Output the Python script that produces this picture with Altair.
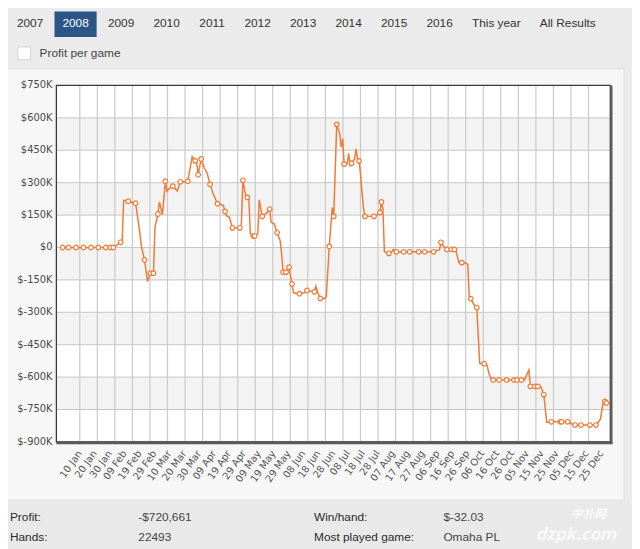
import altair as alt
import pandas as pd

# ---------------- data ----------------
dates = [
    "2008-01-01", "2008-01-05", "2008-01-10", "2008-01-15", "2008-01-20", "2008-01-25", "2008-01-30",
    "2008-02-02", "2008-02-04", "2008-02-06", "2008-02-09", "2008-02-10", "2008-02-11", "2008-02-14",
    "2008-02-19", "2008-02-21", "2008-02-23", "2008-02-25", "2008-02-27", "2008-02-29", "2008-03-02",
    "2008-03-03", "2008-03-05", "2008-03-06", "2008-03-08", "2008-03-10", "2008-03-11", "2008-03-13",
    "2008-03-15", "2008-03-18", "2008-03-20", "2008-03-23", "2008-03-25", "2008-03-28", "2008-03-30",
    "2008-03-31", "2008-04-01", "2008-04-03", "2008-04-05", "2008-04-07", "2008-04-09", "2008-04-11",
    "2008-04-14", "2008-04-16", "2008-04-18", "2008-04-19", "2008-04-20", "2008-04-22", "2008-04-24",
    "2008-04-29", "2008-04-30", "2008-05-01", "2008-05-03", "2008-05-04", "2008-05-05", "2008-05-06",
    "2008-05-08", "2008-05-09", "2008-05-11", "2008-05-12", "2008-05-14", "2008-05-17", "2008-05-19",
    "2008-05-20", "2008-05-22", "2008-05-24", "2008-05-26", "2008-05-27", "2008-05-28", "2008-05-30",
    "2008-06-01", "2008-06-03", "2008-06-04", "2008-06-08", "2008-06-11", "2008-06-13", "2008-06-18",
    "2008-06-19", "2008-06-20", "2008-06-22", "2008-06-25", "2008-06-26", "2008-06-28", "2008-06-30",
    "2008-07-01", "2008-07-03", "2008-07-05", "2008-07-06", "2008-07-07", "2008-07-08", "2008-07-10",
    "2008-07-11", "2008-07-12", "2008-07-13", "2008-07-15", "2008-07-16", "2008-07-17", "2008-07-18",
    "2008-07-19", "2008-07-20", "2008-07-21", "2008-07-22", "2008-07-28", "2008-07-30", "2008-08-01",
    "2008-08-02", "2008-08-03", "2008-08-04", "2008-08-07", "2008-08-09", "2008-08-10", "2008-08-12",
    "2008-08-17", "2008-08-21", "2008-08-27", "2008-08-31", "2008-09-06", "2008-09-10", "2008-09-11",
    "2008-09-13", "2008-09-15", "2008-09-18", "2008-09-20", "2008-09-21", "2008-09-23", "2008-09-25",
    "2008-09-28", "2008-09-29", "2008-09-30", "2008-10-01", "2008-10-03", "2008-10-05", "2008-10-07",
    "2008-10-10", "2008-10-12", "2008-10-13", "2008-10-15", "2008-10-16", "2008-10-20", "2008-10-25",
    "2008-10-30", "2008-11-01", "2008-11-04", "2008-11-06", "2008-11-09", "2008-11-10", "2008-11-13",
    "2008-11-15", "2008-11-17", "2008-11-19", "2008-11-21", "2008-11-24", "2008-11-30", "2008-12-01",
    "2008-12-05", "2008-12-07", "2008-12-10", "2008-12-14", "2008-12-20", "2008-12-24", "2008-12-27",
    "2008-12-29", "2008-12-30", "2008-12-31",
]
profit = [
    0, 0, 0, 0, 0, 0, 0,
    0, 0, 10000, 24000, 30000, 218000, 214000,
    205000, 110000, 3000, -58000, -157000, -119000, -119000,
    93000, 155000, 211000, 152000, 307000, 261000, 275000,
    284000, 261000, 304000, 304000, 307000, 421000, 401000,
    395000, 337000, 410000, 370000, 345000, 292000, 250000,
    203000, 200000, 193000, 167000, 147000, 140000, 91000,
    91000, 108000, 311000, 238000, 232000, 230000, 64000,
    53000, 53000, 64000, 220000, 144000, 160000, 178000,
    117000, 110000, 68000, 33000, -27000, -114000, -114000,
    -91000, -169000, -210000, -214000, -210000, -199000, -205000,
    -180000, -205000, -236000, -236000, -228000, 5000, 185000,
    144000, 570000, 527000, 466000, 503000, 386000, 386000,
    436000, 380000, 390000, 410000, 456000, 410000, 401000,
    340000, 253000, 180000, 144000, 144000, 150000, 162000,
    211000, 180000, -20000, -27000, -20000, -9000, -20000,
    -20000, -20000, -20000, -20000, -20000, -10000, 24000,
    3000, -9000, -9000, -9000, -15000, -70000, -70000,
    -73000, -80000, -237000, -237000, -263000, -278000, -537000,
    -538000, -545000, -580000, -613000, -613000, -613000, -613000,
    -613000, -613000, -613000, -613000, -567000, -643000, -643000,
    -643000, -643000, -681000, -810000, -807000, -807000, -807000,
    -807000, -815000, -822000, -822000, -822000, -822000, -795000,
    -711000, -713000, -720000,
]
session_marker = [
    True, True, True, True, True, True, True,
    True, True, False, True, False, False, True,
    True, False, False, True, False, True, True,
    False, True, False, False, True, False, False,
    True, False, True, False, True, False, True,
    False, True, True, False, False, True, False,
    True, False, False, True, False, False, True,
    True, False, True, False, True, False, False,
    True, True, False, False, True, False, True,
    False, False, True, False, False, True, True,
    True, True, False, True, False, True, True,
    False, False, True, False, False, True, False,
    True, True, False, False, False, True, False,
    False, False, True, False, False, False, True,
    False, False, False, True, True, False, True,
    True, False, False, True, False, False, True,
    True, True, True, True, True, False, True,
    False, True, True, True, False, False, True,
    False, False, False, True, False, True, False,
    True, False, False, False, True, True, True,
    True, True, True, False, False, True, True,
    True, False, True, False, True, True, True,
    True, False, True, True, True, True, False,
    False, True, True,
]

y_ticks = [-900000, -750000, -600000, -450000, -300000, -150000, 0,
           150000, 300000, 450000, 600000, 750000]
y_tick_labels = ["$-900K", "$-750K", "$-600K", "$-450K", "$-300K", "$-150K", "$0",
                 "$150K", "$300K", "$450K", "$600K", "$750K"]
gray_band_starts = [450000, 150000, -150000, -450000, -750000]
x_label_dates = [
    "2008-01-10", "2008-01-20", "2008-01-30", "2008-02-09", "2008-02-19", "2008-02-29",
    "2008-03-10", "2008-03-20", "2008-03-30", "2008-04-09", "2008-04-19", "2008-04-29",
    "2008-05-09", "2008-05-19", "2008-05-29", "2008-06-08", "2008-06-18", "2008-06-28",
    "2008-07-08", "2008-07-18", "2008-07-28", "2008-08-07", "2008-08-17", "2008-08-27",
    "2008-09-06", "2008-09-16", "2008-09-26", "2008-10-06", "2008-10-16", "2008-10-26",
    "2008-11-05", "2008-11-15", "2008-11-25", "2008-12-05", "2008-12-15", "2008-12-25",
]
x_tick_labels = [
    "10 Jan", "20 Jan", "30 Jan", "09 Feb", "19 Feb", "29 Feb",
    "10 Mar", "20 Mar", "30 Mar", "09 Apr", "19 Apr", "29 Apr",
    "09 May", "19 May", "29 May", "08 Jun", "18 Jun", "28 Jun",
    "08 Jul", "18 Jul", "28 Jul", "07 Aug", "17 Aug", "27 Aug",
    "06 Sep", "16 Sep", "26 Sep", "06 Oct", "16 Oct", "26 Oct",
    "05 Nov", "15 Nov", "25 Nov", "05 Dec", "15 Dec", "25 Dec",
]
grid_slots = list(range(30))

tabs = ["2007", "2008", "2009", "2010", "2011", "2012", "2013", "2014", "2015", "2016",
        "This year", "All Results"]
selected_tab = "2008"
checkbox_label = "Profit per game"
stat_names = ["Profit:", "Win/hand:", "Hands:", "Most played game:"]
stat_values = ["-$720,661", "$-32.03", "22493", "Omaha PL"]

# ---------------- layout / style ----------------
W, H = 561, 361
OX, OY = 57, 83          # page position of the plot's top-left corner
ORANGE = "#f07a36"
AXFONT = "DejaVu Sans"
UIFONT = "Liberation Sans"


def dt(s, hours=0):
    y, m, d = (int(v) for v in s.split("-"))
    return alt.DateTime(year=y, month=m, date=d, hours=hours, utc=True)


x_scale = alt.Scale(type="utc", domain=[dt("2007-12-27", 20), dt("2009-01-02", 15)])
y_scale = alt.Scale(domain=[-900000, 750000], nice=False, zero=False)

df = pd.DataFrame({"date": dates, "profit": profit, "marked": session_marker})
one = pd.DataFrame({"k": [0]})


def box(x1, y1, x2, y2, **kw):
    """Decorative rectangle given in page pixels."""
    return alt.Chart(one).mark_rect(**kw).encode(
        x=alt.value(x1 - OX), x2=alt.value(x2 - OX),
        y=alt.value(y1 - OY), y2=alt.value(y2 - OY))


panel = box(-60, 66, 632, 503, color="#f7f7f7", stroke="#dcdcdc", strokeWidth=1)
stats_bg = box(-60, 503, 660, 560, color="#e9e9e9")
plot_bg = alt.Chart(one).mark_rect(color="white").encode(
    x=alt.value(0), x2=alt.value(W), y=alt.value(0), y2=alt.value(H))

bands = alt.Chart(pd.DataFrame({"lo": gray_band_starts,
                                "hi": [b + 150000 for b in gray_band_starts]})).mark_rect(
    color="#f3f3f3").encode(
    y=alt.Y("lo:Q", scale=y_scale, axis=None), y2="hi:Q",
    x=alt.value(0), x2=alt.value(W))

grid_x = alt.Chart(pd.DataFrame({"slot": grid_slots})).mark_rule(
    color="#cacaca", strokeWidth=1.2).encode(
    x=alt.X("slot:Q", scale=alt.Scale(domain=[-1.334, 30.24], nice=False, zero=False), axis=None))

ytick_df = pd.DataFrame({"v": y_ticks, "lab": y_tick_labels})
grid_y = alt.Chart(ytick_df).mark_rule(color="#c6c6c6", strokeWidth=1).encode(
    y=alt.Y("v:Q", scale=y_scale, axis=None))
y_labels = alt.Chart(ytick_df).mark_text(
    font=AXFONT, fontSize=10, color="#4a4a4a", align="right", baseline="middle").encode(
    y=alt.Y("v:Q", scale=y_scale, axis=None), x=alt.value(-4), text="lab:N")

line = alt.Chart(df).mark_line(color=ORANGE, strokeWidth=1.5).encode(
    x=alt.X("date:T", scale=x_scale, axis=None),
    y=alt.Y("profit:Q", scale=y_scale, axis=None))
points = alt.Chart(df).transform_filter("datum.marked").mark_point(
    shape="circle", filled=True, fill="white", stroke=ORANGE, strokeWidth=1.2,
    size=22, opacity=1).encode(
    x=alt.X("date:T", scale=x_scale, axis=None),
    y=alt.Y("profit:Q", scale=y_scale, axis=None))
x_labels = alt.Chart(pd.DataFrame({"d": x_label_dates, "lab": x_tick_labels})).mark_text(
    font=AXFONT, fontSize=10, color="#555555", angle=305, align="right",
    baseline="top").encode(
    x=alt.X("d:T", scale=x_scale, axis=None), y=alt.value(H + 7), text="lab:N")
series = alt.layer(line, points, x_labels)

frame = alt.Chart(one).mark_rect(fill="white", fillOpacity=0, stroke="#3a3a3a",
                                 strokeWidth=1.3).encode(
    x=alt.value(0), x2=alt.value(W), y=alt.value(0), y2=alt.value(H))
shadow_r = alt.Chart(one).mark_rule(color="#5a5a5a", strokeWidth=2.5).encode(
    x=alt.value(W + 1), y=alt.value(0), y2=alt.value(H + 2.2))
shadow_b = alt.Chart(one).mark_rule(color="#5a5a5a", strokeWidth=2.5).encode(
    x=alt.value(0), x2=alt.value(W + 2.2), y=alt.value(H + 1))

# ---- tabs laid out like inline text ----
ARIAL_W = {**{d: 0.556 for d in "0123456789"}, " ": 0.278, "T": 0.611, "h": 0.556,
           "i": 0.222, "s": 0.5, "y": 0.5, "e": 0.556, "a": 0.556, "r": 0.333,
           "A": 0.667, "l": 0.222, "R": 0.722, "u": 0.556, "t": 0.278}


def text_w(s, size=12):
    return sum(ARIAL_W.get(c, 0.55) for c in s) * size


rows, left = [], 17.0
for t in tabs:
    w = text_w(t)
    cx = left + w / 2 - OX
    rows.append({"label": t, "cx": cx, "x1": cx - w / 2 - 8, "x2": cx + w / 2 + 8,
                 "col": "white" if t == selected_tab else "#333333",
                 "sel": t == selected_tab})
    left += w + 19.4
tab_df = pd.DataFrame(rows)

tab_box = alt.Chart(tab_df).transform_filter("datum.sel").mark_rect(color="#2c5687").encode(
    x=alt.X("x1:Q", scale=None), x2="x2:Q", y=alt.value(8 - OY), y2=alt.value(34 - OY))
tab_text = alt.Chart(tab_df).mark_text(font=UIFONT, fontSize=12, baseline="middle",
                                       align="center").encode(
    x=alt.X("cx:Q", scale=None), y=alt.value(20 - OY), text="label:N",
    color=alt.Color("col:N", scale=None))

checkbox = box(18, 44, 31, 57, color="white", stroke="#d2d2d2", strokeWidth=1)
check_text = alt.Chart(pd.DataFrame({"t": [checkbox_label]})).mark_text(
    font=UIFONT, fontSize=12, color="#444444", align="left", baseline="middle").encode(
    x=alt.value(40 - OX), y=alt.value(50 - OY), text="t:N")

# ---- statistics block (2 x 2 grid of name / value pairs) ----
srows = []
for i, (n, v) in enumerate(zip(stat_names, stat_values)):
    col, row = i % 2, i // 2
    srows.append({"name": n, "val": v,
                  "nx": [10, 318][col] - OX, "vx": [140, 449][col] - OX,
                  "y": [520, 540][row] - OY})
stat_df = pd.DataFrame(srows)
stat_names_t = alt.Chart(stat_df).mark_text(font=UIFONT, fontSize=12, color="#2a2a2a",
                                            align="left", baseline="middle").encode(
    x=alt.X("nx:Q", scale=None), y=alt.Y("y:Q", scale=None), text="name:N")
stat_vals_t = alt.Chart(stat_df).mark_text(font=UIFONT, fontSize=12, color="#444444",
                                           align="left", baseline="middle").encode(
    x=alt.X("vx:Q", scale=None), y=alt.Y("y:Q", scale=None), text="val:N")

watermark = alt.Chart(pd.DataFrame({"t": ["中扑网", "dzpk.com"], "x": [596 - OX, 583 - OX],
                                    "y": [517 - OY, 538 - OY], "s": [12, 17]})).mark_text(
    font="Noto Sans CJK SC", color="white", opacity=0.75, fontWeight="bold",
    fontStyle="italic", align="center", baseline="middle").encode(
    x=alt.X("x:Q", scale=None), y=alt.Y("y:Q", scale=None), text="t:N",
    size=alt.Size("s:Q", scale=None))

chart = alt.layer(
    panel, stats_bg, plot_bg, bands, grid_x, grid_y, y_labels, series, frame, shadow_r,
    shadow_b, tab_box, tab_text, checkbox, check_text, stat_names_t, stat_vals_t, watermark,
).resolve_scale(x="independent").properties(
    width=W, height=H,
    padding={"left": 49, "top": 75, "right": 22, "bottom": 105},
    autosize=alt.AutoSizeParams(type="none"),
    background="#ebebeb",
).configure_view(strokeWidth=0)

chart.save("out.html", embed_options={"renderer": "svg", "actions": False})
